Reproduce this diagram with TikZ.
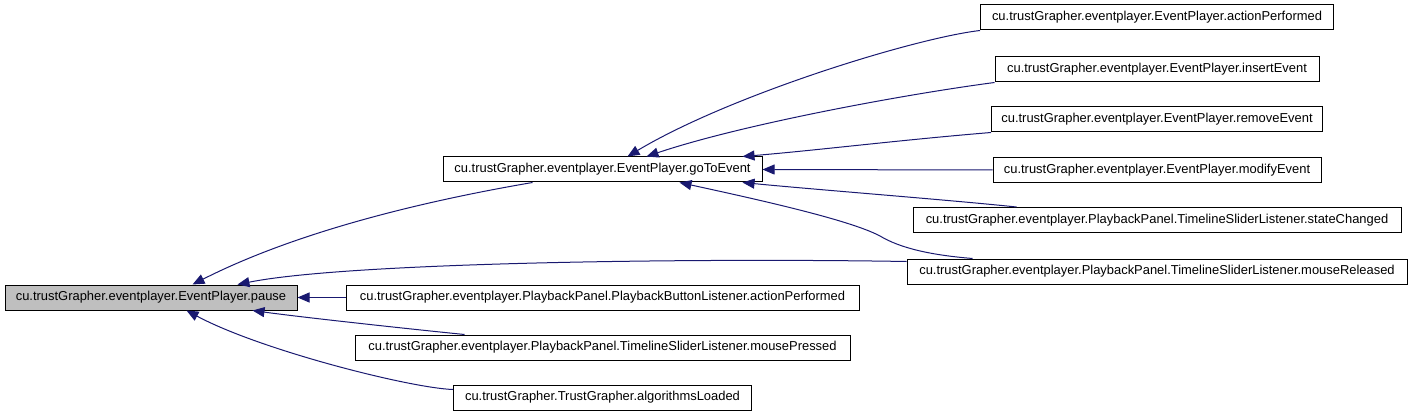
\documentclass[tikz,border=0pt]{standalone}
\usepackage{fontspec}
\setmainfont{Liberation Sans}
\usepackage{tikz}
\usetikzlibrary{arrows.meta,calc}
\definecolor{CallNavy}{HTML}{191970}
\definecolor{CallRoot}{HTML}{BFBFBF}
\tikzset{
  fnbox/.style={draw=black,line width=0.75pt,fill=white,inner sep=0pt,
    minimum height=18.75pt,font=\fontsize{9.7}{11}\selectfont},
  rootbox/.style={fnbox,fill=CallRoot},
  callflow/.style={-{Triangle[length=9pt,width=7.5pt]},line width=0.75pt,draw=CallNavy}
}

\begin{document}
\begin{tikzpicture}[x=0.75pt,y=-0.75pt]
  \useasboundingbox (0,0) rectangle (1413,417);
  \node[rootbox,minimum width=219pt] (pause) at (151,297.5) {cu.trustGrapher.eventplayer.EventPlayer.pause};
  \node[fnbox,minimum width=239.25pt] (goToEvent) at (602.5,169.5) {cu.trustGrapher.eventplayer.EventPlayer.goToEvent};
  \foreach \name/\y/\w/\txt in {
    actionPerformed/17.5/264.75/cu.trustGrapher.eventplayer.EventPlayer.actionPerformed,
    insertEvent/69.5/243/cu.trustGrapher.eventplayer.EventPlayer.insertEvent,
    removeEvent/119.5/248.25/cu.trustGrapher.eventplayer.EventPlayer.removeEvent,
    modifyEvent/170/246/cu.trustGrapher.eventplayer.EventPlayer.modifyEvent,
    stateChanged/220/366/cu.trustGrapher.eventplayer.PlaybackPanel.TimelineSliderListener.stateChanged,
    mouseReleased/271.5/375/cu.trustGrapher.eventplayer.PlaybackPanel.TimelineSliderListener.mouseReleased} {
    \node[fnbox,minimum width=\w pt] (\name) at (1157,\y) {\txt};
  }
  \foreach \name/\y/\w/\txt in {
    buttonAction/297.5/384.75/cu.trustGrapher.eventplayer.PlaybackPanel.PlaybackButtonListener.actionPerformed,
    mousePressed/347.5/371.25/cu.trustGrapher.eventplayer.PlaybackPanel.TimelineSliderListener.mousePressed,
    algorithmsLoaded/397.5/223.5/cu.trustGrapher.TrustGrapher.algorithmsLoaded} {
    \node[fnbox,minimum width=\w pt] (\name) at (602.5,\y) {\txt};
  }
  % callers of goToEvent
  \draw[callflow] (actionPerformed.south west) .. controls (915,38) and (730,95) .. ($(goToEvent.north west)+(185,0)$);
  \draw[callflow] (insertEvent.south west) .. controls (900,95) and (740,125) .. ($(goToEvent.north west)+(204,0)$);
  \draw[callflow] (removeEvent.south west) .. controls (900,140) and (820,150) .. ($(goToEvent.north west)+(300,0)$);
  \draw[callflow] (modifyEvent.west) -- (goToEvent.east);
  \draw[callflow] ($(stateChanged.north west)+(104,0)$) .. controls (950,200) and (820,190) .. ($(goToEvent.south west)+(300,0)$);
  \draw[callflow] ($(mouseReleased.north west)+(66,0)$) .. controls (930,255) and (900,248) .. (880,236)
    .. controls (850,220) and (760,200) .. ($(goToEvent.south west)+(237,0)$);
  % callers of pause
  \draw[callflow] ($(goToEvent.south west)+(90,0)$) .. controls (430,200) and (300,230) .. ($(pause.north west)+(188,0)$);
  \draw[callflow] ($(mouseReleased.north west)+(0,3)$) .. controls (700,258) and (350,262) .. ($(pause.north west)+(233,0)$);
  \draw[callflow] (buttonAction.west) -- (pause.east);
  \draw[callflow] ($(mousePressed.north west)+(110,0)$) .. controls (400,328) and (300,317) .. ($(pause.south west)+(248,0)$);
  \draw[callflow] ($(algorithmsLoaded.north west)+(0,5)$) .. controls (410,388) and (260,350) .. ($(pause.south west)+(182,0)$);
\end{tikzpicture}
\end{document}
